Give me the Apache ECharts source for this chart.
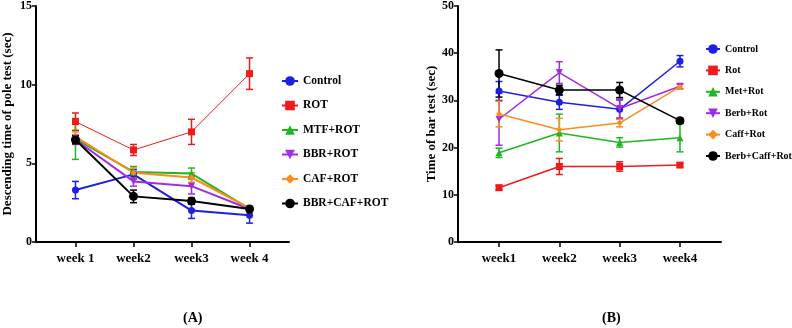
<!DOCTYPE html>
<html>
<head>
<meta charset="utf-8">
<script src="https://cdn.jsdelivr.net/npm/echarts@6/dist/echarts.min.js"></script>
<style>
  html, body { margin: 0; padding: 0; background: #fff; }
  #chart { width: 792px; height: 328px; }
</style>
</head>
<body>
<div id="chart"></div>
<script>
// x positions of the four weeks
var weeks = [1, 2, 3, 4];
var weekLabelsA = ['week 1', 'week2', 'week3', 'week 4'];
var weekLabelsB = ['week1', 'week2', 'week3', 'week4'];

// (A) pole test, mean and error per group
var namesA = ['Control', 'ROT', 'MTF+ROT', 'BBR+ROT', 'CAF+ROT', 'BBR+CAF+ROT'];
var controlA = [3.3, 4.3, 2.0, 1.7];
var rotA = [7.65, 5.85, 7.0, 10.7];
var mtfA = [6.55, 4.45, 4.35, 2.1];
var bbrA = [6.5, 3.85, 3.55, 2.1];
var cafA = [6.7, 4.4, 4.1, 2.15];
var comboA = [6.5, 2.9, 2.6, 2.1];
var controlErrA = [0.55, 0.3, 0.5, 0.5];
var rotErrA = [0.55, 0.35, 0.8, 1.0];
var mtfErrA = [1.3, 0.35, 0.35, 0.1];
var bbrErrA = [0.3, 0.3, 0.5, 0.1];
var cafErrA = [0.3, 0.3, 0.3, 0.1];
var comboErrA = [0.25, 0.4, 0.2, 0.1];

// (B) bar test
var namesB = ['Control', 'Rot', 'Met+Rot', 'Berb+Rot', 'Caff+Rot', 'Berb+Caff+Rot'];
var controlB = [32.0, 29.6, 28.1, 38.3];
var rotB = [11.5, 16.0, 16.0, 16.3];
var metB = [18.9, 23.1, 21.1, 22.1];
var berbB = [26.0, 35.9, 28.3, 33.0];
var caffB = [27.1, 23.8, 25.2, 32.9];
var comboB = [35.7, 32.2, 32.2, 25.7];
var controlErrB = [2.0, 1.5, 2.0, 1.2];
var rotErrB = [0.5, 1.7, 1.0, 0.4];
var metErrB = [1.0, 4.0, 1.0, 3.0];
var berbErrB = [5.5, 2.3, 2.0, 0.5];
var caffErrB = [2.7, 2.4, 0.8, 0.5];
var comboErrB = [5.0, 1.0, 1.6, 0.5];

var colors = ['#1f1fe0', '#f01a1a', '#22b522', '#a02ee0', '#fb8c1e', '#000000'];
var symbols = ['circle', 'rect', 'triangle', 'path://M0,0 L10,0 L5,10 Z', 'diamond', 'circle'];
var symSizes = [7, 7, 7, 7, 6, 9];
var font = 'Liberation Serif';

function pairs(v) {
    var d = [];
    for (var i = 0; i < weeks.length; i++) d.push([weeks[i], v[i]]);
    return d;
}
function triples(v, e) {
    var d = [];
    for (var i = 0; i < weeks.length; i++) d.push([weeks[i], v[i], e[i]]);
    return d;
}

function errBar(color) {
    return function (params, api) {
        var x = api.value(0), m = api.value(1), e = api.value(2);
        var hi = api.coord([x, m + e]), lo = api.coord([x, m - e]);
        var w = 3.5;
        var st = { stroke: color, lineWidth: 1.5 };
        return {
            type: 'group',
            children: [
                { type: 'line', shape: { x1: hi[0], y1: hi[1], x2: lo[0], y2: lo[1] }, style: st },
                { type: 'line', shape: { x1: hi[0] - w, y1: hi[1], x2: hi[0] + w, y2: hi[1] }, style: st },
                { type: 'line', shape: { x1: lo[0] - w, y1: lo[1], x2: lo[0] + w, y2: lo[1] }, style: st }
            ]
        };
    };
}

var series = [];
function addGroup(idx, names, vals, errs, lineWidths) {
    for (var i = 0; i < names.length; i++) {
        series.push({
            name: 'err' + idx + '_' + i,
            type: 'custom',
            xAxisIndex: idx, yAxisIndex: idx,
            renderItem: errBar(colors[i]),
            encode: { x: 0, y: 1 },
            data: triples(vals[i], errs[i]),
            z: 2
        });
        series.push({
            name: names[i],
            type: 'line',
            xAxisIndex: idx, yAxisIndex: idx,
            data: pairs(vals[i]),
            symbol: symbols[i],
            symbolSize: symSizes[i],
            color: colors[i],
            lineStyle: { width: lineWidths[i], color: colors[i] },
            itemStyle: { color: colors[i] },
            z: 3
        });
    }
}
addGroup(0, namesA,
    [controlA, rotA, mtfA, bbrA, cafA, comboA],
    [controlErrA, rotErrA, mtfErrA, bbrErrA, cafErrA, comboErrA],
    [2, 1, 2, 2, 2, 2]);
addGroup(1, namesB,
    [controlB, rotB, metB, berbB, caffB, comboB],
    [controlErrB, rotErrB, metErrB, berbErrB, caffErrB, comboErrB],
    [1.5, 1.5, 1.5, 1.5, 1.5, 1.5]);

function xAxis(idx, labels) {
    return {
        type: 'value', gridIndex: idx, min: 0.32, max: 4.68,
        axisLine: { lineStyle: { color: '#000', width: 2 } },
        axisTick: { customValues: weeks, length: 5, lineStyle: { color: '#000', width: 1.5 } },
        axisLabel: {
            customValues: weeks, margin: 10,
            fontFamily: font, fontWeight: 'bold', fontSize: 13, color: '#000',
            formatter: function (v) { return labels[Math.round(v) - 1]; }
        },
        splitLine: { show: false }
    };
}
function yAxis(idx, max, interval, name, gap) {
    return {
        type: 'value', gridIndex: idx, min: 0, max: max, interval: interval,
        name: name, nameLocation: 'middle', nameGap: gap,
        nameTextStyle: { fontFamily: font, fontWeight: 'bold', fontSize: 13, color: '#000' },
        axisLine: { show: true, lineStyle: { color: '#000', width: 2 } },
        axisTick: { show: true, length: 4, lineStyle: { color: '#000', width: 1.5 } },
        axisLabel: { fontFamily: font, fontWeight: 'bold', fontSize: 12, color: '#000', margin: 4 },
        splitLine: { show: false }
    };
}

var chart = echarts.init(document.getElementById('chart'));
chart.setOption({
    animation: false,
    backgroundColor: '#fff',
    grid: [
        { left: 32, top: 4, width: 257, height: 238 },
        { left: 458, top: 5, width: 263, height: 237 }
    ],
    xAxis: [xAxis(0, weekLabelsA), xAxis(1, weekLabelsB)],
    yAxis: [
        yAxis(0, 15, 5, 'Descending time of pole test (sec)', 22),
        yAxis(1, 50, 10, 'Time of bar test (sec)', 18)
    ],
    legend: [
        {
            data: namesA, orient: 'vertical', left: 276, top: 70,
            itemWidth: 16, itemHeight: 12, itemGap: 12.5,
            textStyle: { fontFamily: font, fontWeight: 'bold', fontSize: 11.5, color: '#000' }
        },
        {
            data: namesB, orient: 'vertical', left: 700, top: 39,
            itemWidth: 14, itemHeight: 12, itemGap: 11.4,
            textStyle: { fontFamily: font, fontWeight: 'bold', fontSize: 10, color: '#000' }
        }
    ],
    graphic: [
        { type: 'text', left: 183, top: 311, style: { text: '(A)', font: 'bold 14px "Liberation Serif"', fill: '#000' } },
        { type: 'text', left: 602, top: 311, style: { text: '(B)', font: 'bold 14px "Liberation Serif"', fill: '#000' } }
    ],
    series: series
});
</script>
</body>
</html>
